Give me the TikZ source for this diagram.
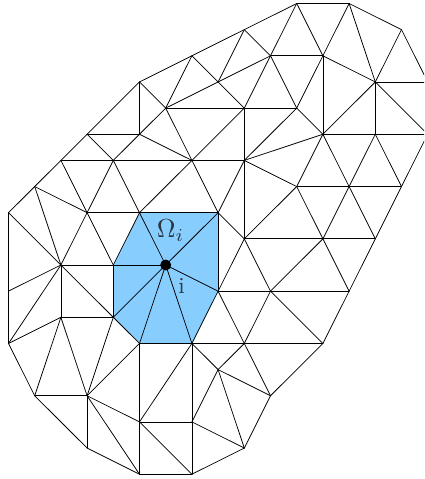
\documentclass[tikz,border=0pt]{standalone}
\usepackage{graphicx}
\definecolor{cellblue}{RGB}{135,206,255}
\definecolor{labelink}{RGB}{45,55,65}
\tikzset{
  mesh/.style={draw=black,line width=0.75pt,line cap=round},
  cell/.style={fill=cellblue,draw=none},
  centerdot/.style={circle,fill=black,draw=none,minimum size=11pt,inner sep=0pt},
  lab/.style={inner sep=0pt,text=labelink}
}
\begin{document}
\begin{tikzpicture}[x=1pt,y=-1pt]
\clip (0,0) rectangle (424,479);
% regular lattice on which every mesh vertex sits
\foreach \c in {0,...,16}{
  \foreach \r in {0,...,18}{
    \coordinate (p\c-\r) at ({8.5+26.2*\c},{3.5+26.15*\r});
  }
}
\fill[cell] (p5-8) -- (p8-8) -- (p8-11) -- (p7-13) -- (p5-13) -- (p4-12) -- (p4-10) -- cycle;
\foreach \a/\b in {
  11-0/13-0,13-0/15-1,15-1/14-3,15-1/16-3,14-3/16-3,14-3/16-5,14-3/14-5,14-3/12-5,14-3/13-0,14-3/12-2,
  12-2/13-0,12-2/11-0,12-2/10-2,12-2/12-5,12-2/11-4,11-0/10-2,11-0/9-1,9-1/10-2,9-1/8-3,10-2/8-3,
  8-3/6-4,10-2/11-4,10-2/9-4,8-3/9-4,9-4/11-4,11-4/12-5,9-4/9-6,9-4/7-6,11-4/9-6,12-5/9-6,
  12-5/16-5,6-4/9-4,5-3/7-2,7-2/9-1,5-3/5-5,5-3/3-5,5-3/6-4,3-5/5-5,3-5/2-6,3-5/4-6,
  5-5/4-6,2-6/1-7,2-6/9-6,5-5/7-6,6-4/7-6,6-4/5-5,6-4/7-2,7-2/8-3,
  7-6/8-8,7-6/5-8,4-6/5-8,4-6/3-8,2-6/3-8,1-7/3-8,3-8/5-8,9-6/8-8,9-6/11-7,9-6/9-9,
  12-5/11-7,12-5/13-7,13-7/14-5,14-5/15-7,11-7/15-7,15-7/16-5,11-7/9-9,11-7/12-9,13-7/12-9,13-7/14-9,
  15-7/14-9,9-9/14-9,8-8/9-9,9-9/8-11,9-9/10-11,12-9/10-11,12-9/13-11,14-9/13-11,8-11/13-11,8-11/9-13,
  10-11/9-13,10-11/12-13,13-11/12-13,7-13/12-13,9-13/8-14,9-13/10-15,7-13/8-14,8-14/10-15,12-13/10-15,8-14/7-16,
  8-14/9-17,10-15/9-17,7-16/9-17,9-17/7-18,7-13/7-18,7-13/5-16,5-16/7-16,5-16/7-18,5-18/7-18,5-13/7-13,
  5-13/5-18,3-15/5-16,3-15/5-18,3-17/5-18,3-15/3-17,1-15/3-17,1-15/3-15,0-13/1-15,1-15/2-12,3-15/2-12,
  3-15/4-12,3-15/5-13,4-12/5-13,2-12/4-12,2-10/2-12,2-10/4-12,2-12/0-13,2-10/0-8,2-10/0-11,2-10/0-13,
  0-8/0-13,1-7/0-8,1-7/2-10,3-8/2-10,3-8/4-10,2-10/4-10,5-8/4-10,5-8/8-8,4-10/4-12,8-8/8-11,
  8-11/7-13,
  6-10/5-8,6-10/8-8,6-10/8-11,6-10/7-13,6-10/5-13,6-10/4-12,6-10/4-10}
  {\draw[mesh] (p\a) -- (p\b);}
\node[centerdot] (ci) at (p6-10) {};
\node[lab] (omega) at (170.5,231) {\scalebox{2.6}{$\Omega_i$}};
\node[lab] (ilabel) at (181.5,286) {\scalebox{2.3}{i}};
\end{tikzpicture}
\end{document}
